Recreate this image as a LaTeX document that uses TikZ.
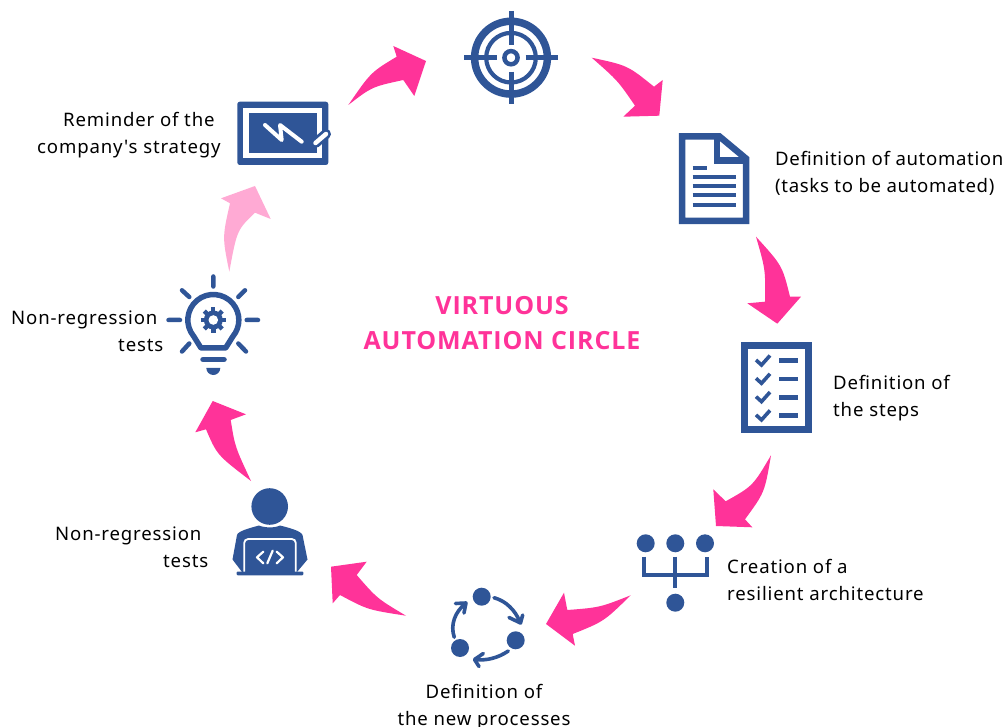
\documentclass[tikz,border=0pt]{standalone}
\usepackage{fontspec}
\setmainfont{Noto Sans}[Ligatures=TeXOff]
\newfontfamily\lblfont{Noto Sans}[Ligatures=TeXOff,LetterSpace=4.5]
\newfontfamily\lblfontb{Noto Sans}[Ligatures=TeXOff,LetterSpace=3.5]
\newfontfamily\ttlfont{Open Sans Bold}[LetterSpace=3.6]
\definecolor{iconblue}{HTML}{2F5597}
\definecolor{hotpink}{HTML}{FF3399}
\definecolor{softpink}{HTML}{FFAAD4}
\tikzset{
  lbl/.style={anchor=north west,inner sep=0pt,align=left,font=\lblfont\fontsize{18.6}{27}\selectfont,text=black},
  ttl/.style={anchor=center,inner sep=0pt,align=center,font=\ttlfont\fontsize{25}{35}\selectfont,text=hotpink},
  bar/.style={draw=iconblue,line cap=butt,line join=miter},
  rbar/.style={draw=iconblue,line cap=round,line join=round},
  wbar/.style={draw=white,line cap=round,line join=round},
  arc3/.style={rbar,line width=3.6pt},
}
\begin{document}
\begin{tikzpicture}[x=1pt,y=-1pt]
\useasboundingbox (0,0) rectangle (1007,727);
% arrows
\fill[hotpink] (348.3,105) .. controls (370.8,72.3) .. (396.7,56.7) -- (393.3,46) -- (426,61) -- (414.3,96) -- (403.3,80) .. controls (371.9,86.8) .. cycle;
\fill[hotpink] (591.7,57.7) .. controls (627.6,65.4) .. (654,86.7) -- (662.7,80) -- (659.3,115.7) -- (623.3,116.7) -- (635,105.7) .. controls (617.8,80.6) .. cycle;
\fill[hotpink] (756,236.7) .. controls (782.3,265.6) .. (790,296.7) -- (801,296.7) -- (777.3,323.7) -- (747.3,303.3) -- (765,301.7) .. controls (765.5,269.7) .. cycle;
\fill[hotpink] (771,455.3) .. controls (764.7,492.4) .. (745,519.3) -- (752.3,527.3) -- (716,526) -- (713.3,489.3) -- (725.7,501.3) .. controls (752.8,486.1) .. cycle;
\fill[hotpink] (630.7,595.3) .. controls (603.9,621.5) .. (572.7,634) -- (575,645.7) -- (546,624) -- (564,592.7) -- (567.3,610) .. controls (599.7,607.5) .. cycle;
\fill[hotpink] (406,615.7) .. controls (377.1,598.5) .. (356.7,575) -- (366.7,561.7) -- (331,566.7) -- (332.7,603.3) -- (340,595) .. controls (367.7,609.8) .. cycle;
\fill[hotpink] (251,481) .. controls (235,446.8) .. (230.7,420) -- (246,414.3) -- (212.7,401) -- (195.3,432.3) -- (206,429.3) .. controls (217,455) .. cycle;
\fill[softpink] (229.3,271.7) .. controls (222.3,237.2) .. (230,203.3) -- (221,198.3) -- (255,186) -- (270.7,219) -- (255,212.7) .. controls (237,230) .. cycle;
% target
\draw[bar,line width=7.5pt] (511,57.7) circle[radius=36.4];
\draw[bar,line width=4.2pt] (511,57.7) circle[radius=24.8];
\draw[bar,line width=4.5pt] (511,57.7) circle[radius=6.6];
\draw[bar,line width=5pt] (464.3,57.7) -- (497.3,57.7) (525.7,57.7) -- (558.3,57.7) (511,11) -- (511,45) (511,71.7) -- (511,104.3);
% board
\fill[iconblue,rounded corners=2.5pt] (237.3,101.7) rectangle (328.3,165);
\fill[white] (243.3,107.7) rectangle (321.7,158.3);
\fill[iconblue] (249,112.7) rectangle (316.7,153.3);
\draw[wbar,line width=4pt] (265,125) -- (281.7,140) -- (280,125) -- (301.7,141.7);
\draw[rbar,line width=10pt] (315.5,143) -- (326,134);
\draw[wbar,line width=4.5pt] (315.5,143) -- (326,134);
% document
\draw[bar,line width=6.5pt] (682.2,136.5) -- (719.5,136.5) -- (746.1,158.7) -- (746.1,220.8) -- (682.2,220.8) -- cycle;
\draw[bar,line width=6.5pt] (717.2,136.5) -- (717.2,160.5) -- (746.1,160.5);
\fill[white] (721,143) -- (735,156.5) -- (721,156.5) -- cycle;
\draw[bar,line width=4.3pt] (692.7,168.3) -- (707.3,168.3) (692.7,177.3) -- (736,177.3) (692.7,186.3) -- (736,186.3) (692.7,195.3) -- (736,195.3) (692.7,204.7) -- (736,204.7);
% checklist
\draw[bar,line width=7pt] (744.6,345.2) rectangle (808.2,429.2);
\draw[bar,line width=4.5pt] (779,360.7) -- (798.3,360.7) (779,379) -- (798.3,379) (779,397.3) -- (798.3,397.3) (779,415.7) -- (798.3,415.7);
\foreach \dy in {0,18.3,36.6,54.9} {
  \draw[bar,line width=3.6pt] (756,360+\dy) -- (761.5,365+\dy) -- (770,355.5+\dy);
}
% architecture
\fill[iconblue] (645.7,543.3) circle[radius=9] (675.3,543.3) circle[radius=9] (705,543.3) circle[radius=9] (675.3,602.7) circle[radius=9];
\draw[bar,line width=4pt] (644,556.7) -- (644,574.5) -- (706.7,574.5) -- (706.7,556.7) (675.3,556.7) -- (675.3,588.3);
% cycle
\fill[iconblue] (481.7,596.7) circle[radius=9] (515.7,640.3) circle[radius=9] (460,648) circle[radius=9];
\draw[arc3] (494,597.7) .. controls (506,601) and (515,610) .. (520,622);
\draw[arc3] (509,617.5) -- (520.5,623) -- (522.7,615);
\draw[arc3] (508.3,651) .. controls (498,658) and (486,661) .. (475,659.5);
\draw[arc3] (483.3,653.5) -- (474.5,659.5) -- (479,666.5);
\draw[arc3] (454.3,637.3) .. controls (450,625) and (455,612) .. (465,604);
\draw[arc3] (455.5,603.5) -- (466,603) -- (464,613);
% person
\fill[iconblue] (269.7,506.5) circle[radius=18.3];
\fill[iconblue] (242,572) -- (232.5,559.5) -- (237,535) .. controls (238,531) and (250,528) .. (259,525.5) .. controls (265,528) and (275,528) .. (280,525.5) .. controls (290,528) and (301,531) .. (302.5,535) -- (307.5,559.5) -- (297,572) -- cycle;
\draw[draw=white,line width=1.8pt,rounded corners=4pt] (244.2,572) -- (244.2,539) -- (295.8,539) -- (295.8,572);
\fill[iconblue,rounded corners=1pt] (236.7,571.5) rectangle (303.3,575.4);
\draw[wbar,line width=2.2pt] (263.3,551.7) -- (257,557.3) -- (263.3,563.3) (272.7,550.7) -- (267.3,563.3) (276.7,551.7) -- (283,557.3) -- (276.7,563.3);
% bulb
\draw[rbar,line width=4.5pt] (213.3,276.5) -- (213.3,286.5) (168.5,320) -- (180,320) (246.7,320) -- (258,320) (182,290.3) -- (189.3,297) (245,290.3) -- (238.3,297) (182,351.5) -- (189.3,343.5) (246,351.5) -- (238.3,343.5);
\draw[rbar,line width=5.5pt] (201,348) -- (193.8,336.4) arc[start angle=140,end angle=400,radius=25.5] -- (225.6,348) -- cycle;
\draw[rbar,line width=5.5pt] (203,359.5) -- (224,359.5);
\fill[iconblue] (206.3,368) -- (220.3,368) arc[start angle=0,end angle=180,radius=7] -- cycle;
\foreach \a in {0,45,...,315} {
  \fill[iconblue] (213.3,320) ++(\a-16:8) -- ++(\a:5) -- ++(\a+90:4.4) -- ++(\a+180:5) -- cycle;
}
\fill[iconblue] (213.3,320) circle[radius=9.5];
\fill[white] (213.3,320) circle[radius=4.8];
% labels
\node[lbl] (strategy) at (37,112.5) {\hspace*{26pt}Reminder of the\\company's strategy};
\node[lbl,font=\lblfontb\fontsize{18.6}{27}\selectfont] (automation) at (775,151.5) {Definition of automation\\(tasks to be automated)};
\node[lbl] (steps) at (833,375.5) {Definition of\\the steps};
\node[lbl] (architecture) at (727,559.5) {Creation of a\\resilient architecture};
\node[lbl,anchor=north,align=center] (processes) at (484,684.5) {Definition of\\the new processes};
\node[lbl] (tests1) at (55,526.5) {Non-regression\\\hspace*{108pt}tests};
\node[lbl] (tests2) at (11,310.5) {Non-regression\\\hspace*{107pt}tests};
\node[ttl] (title) at (502,323.5) {VIRTUOUS\\AUTOMATION CIRCLE};
\end{tikzpicture}
\end{document}
